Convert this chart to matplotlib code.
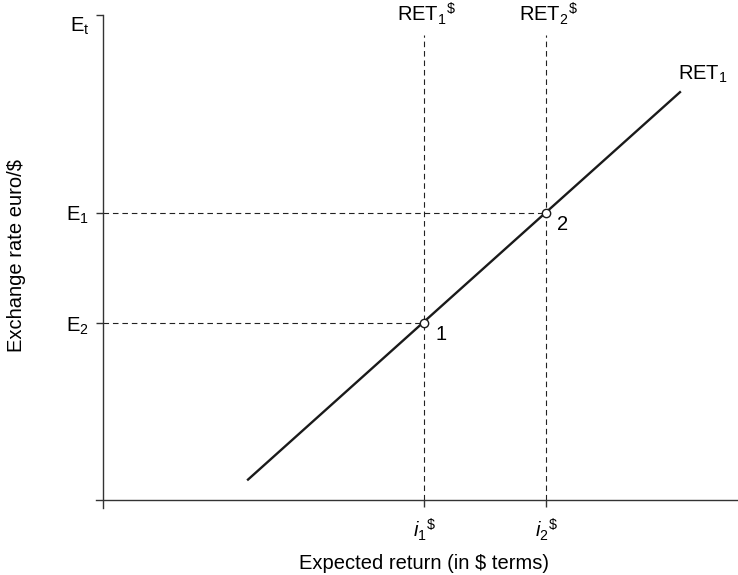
import matplotlib
matplotlib.use("Agg")
import matplotlib.pyplot as plt

plt.rcParams["font.family"] = ["Liberation Sans", "DejaVu Sans"]
plt.rcParams["mathtext.fontset"] = "custom"
plt.rcParams["mathtext.rm"] = "Liberation Sans"
plt.rcParams["mathtext.it"] = "Liberation Sans:italic"

# diagram values (arbitrary units, axes run 0..100)
ret_x = [22.7, 91.0]          # RET_1 schedule ends
ret_y = [4.1, 84.3]
i_vals = [50.6, 69.8]         # i1$, i2$
e_vals = [36.5, 59.2]         # E2, E1
pt_labels = ["1", "2"]
i_labels = [r"$i_1{}^{\$}$", r"$i_2{}^{\$}$"]
e_labels = [r"E$_2$", r"E$_1$"]
ret_labels = [r"RET$_1{}^{\$}$", r"RET$_2{}^{\$}$"]
vline_top = 95.9
y_top = 100

fs = 14.5
fig = plt.figure(figsize=(7.38, 5.75), dpi=100)
ax = fig.add_axes([0.1301, 0.1165, 0.8699, 0.857])
ax.set_xlim(-1.1, 100)
ax.set_ylim(-1.6, y_top)

for s in ["top", "right"]:
    ax.spines[s].set_visible(False)
ax.spines["left"].set_position(("data", 0))
ax.spines["bottom"].set_position(("data", 0))
for s in ["left", "bottom"]:
    ax.spines[s].set_linewidth(1.0)
    ax.spines[s].set_color("#333333")

dash = dict(color="#222222", lw=0.8, ls=(0, (5, 3.5)))
for x in i_vals:
    ax.plot([x, x], [0, vline_top], **dash)
for x, y in zip(i_vals, e_vals):
    ax.plot([0, x], [y, y], **dash)

ax.plot(ret_x, ret_y, color="#1a1a1a", lw=1.7, solid_capstyle="butt")
ax.plot(i_vals, e_vals, "o", ms=6, mfc="white", mec="#1a1a1a", mew=1.0, zorder=5)

for x, y, t in zip(i_vals, e_vals, pt_labels):
    ax.text(x + 1.7, y - 0.3, t, fontsize=fs, ha="left", va="top")

ax.text(ret_x[1] - 0.5, ret_y[1] + 1.4, r"RET$_1$", fontsize=fs, ha="left", va="bottom")
for x, t in zip(i_vals, ret_labels):
    ax.text(x + 0.3, vline_top + 1.6, t, fontsize=fs, ha="center", va="bottom")

ax.set_xticks(i_vals)
ax.set_xticklabels(i_labels, fontsize=fs)
ax.set_yticks(e_vals + [y_top])
ax.set_yticklabels(e_labels + [r"E$_{\rm t}$"], fontsize=fs)
ax.get_yticklabels()[-1].set_va("top")
ax.tick_params(axis="both", direction="out", length=5, width=1.0, color="#333333")
ax.tick_params(axis="y", pad=5)
ax.tick_params(axis="x", pad=7)

fig.text(0.022, 0.555, "Exchange rate euro/$", rotation=90, fontsize=fs,
         ha="center", va="center")
fig.text(0.574, 0.004, "Expected return (in $ terms)", fontsize=fs,
         ha="center", va="bottom")

fig.savefig("out.png", dpi=100)
